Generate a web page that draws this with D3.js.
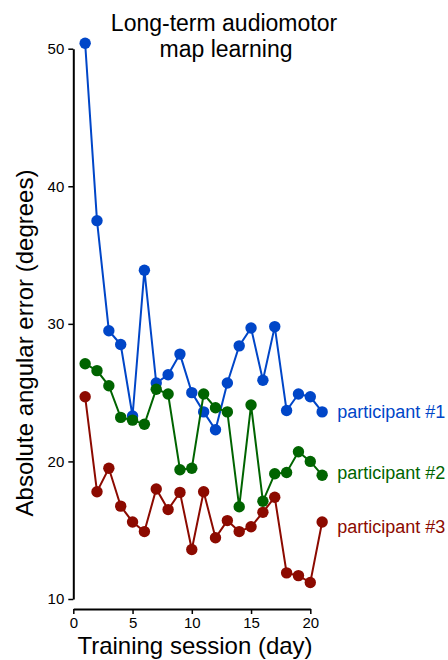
<!DOCTYPE html>
<html>
<head>
<meta charset="utf-8">
<script src="https://cdn.jsdelivr.net/npm/d3@7"></script>
<style>
  body { margin: 0; background: #fff; }
  text { font-family: "Liberation Sans", Arial, Helvetica, sans-serif; }
</style>
</head>
<body>
<div id="chart"></div>
<script>
// ---------------------- data ----------------------
var days = d3.range(1, 22);
var p1 = [50.4, 37.5, 29.5, 28.5, 23.3, 33.9, 25.7, 26.3, 27.8, 25.0, 23.6,
          22.3, 25.7, 28.4, 29.7, 25.9, 29.8, 23.7, 24.9, 24.7, 23.6];
var p2 = [27.1, 26.6, 25.5, 23.2, 23.0, 22.7, 25.25, 24.9, 19.4, 19.5, 24.9,
          23.9, 23.6, 16.7, 24.1, 17.1, 19.1, 19.2, 20.7, 20.0, 19.0];
var p3 = [24.7, 17.8, 19.5, 16.75, 15.6, 14.9, 18.0, 16.5, 17.75, 13.6, 17.8,
          14.45, 15.7, 14.9, 15.25, 16.3, 17.4, 11.9, 11.7, 11.2, 15.6];
var seriesNames = ["participant #1", "participant #2", "participant #3"];
var xTicks = [0, 5, 10, 15, 20];
var yTicks = [10, 20, 30, 40, 50];
var titleLines = ["Long-term audiomotor", "map learning"];

var series = [p1, p2, p3];
var seriesColors = ["#0046c8", "#006400", "#8c0a00"];
var labelNudge = [0, -2, 5];   // px, keeps the end labels apart

// ---------------------- svg ----------------------
var svg = d3.select("#chart")
     .append("svg")
     .attr("width", 448)
     .attr("height", 660);

var x = d3.scaleLinear().domain([0, 20]).range([73.3, 310.3]);
var y = d3.scaleLinear().domain([10, 50]).range([599, 48.7]);

// axes (offset from each other, spine only over the tick range)
var xAxis = svg.append("g")
     .attr("transform", "translate(0,609)")
     .call(d3.axisBottom(x).tickValues(xTicks).tickSize(5).tickSizeOuter(0).tickPadding(3));
var yAxis = svg.append("g")
     .attr("transform", "translate(73.3,0)")
     .call(d3.axisLeft(y).tickValues(yTicks).tickSize(5).tickSizeOuter(0).tickPadding(4));

[xAxis, yAxis].forEach(function (a) {
  a.select(".domain").attr("stroke", "#000").attr("stroke-width", 2);
  a.selectAll(".tick line").attr("stroke", "#000").attr("stroke-width", 1.5);
  a.selectAll(".tick text")
     .attr("fill", "#000")
     .attr("font-size", 15)
     .attr("font-family", "Liberation Sans, Arial, sans-serif");
});

// lines + markers
var line = d3.line()
     .x(function (d, i) { return x(days[i]); })
     .y(function (d) { return y(d); });

series.forEach(function (s, k) {
  svg.append("path")
     .datum(s)
     .attr("d", line)
     .attr("fill", "none")
     .attr("stroke", seriesColors[k])
     .attr("stroke-width", 2);

  svg.selectAll(".pt" + k)
     .data(s)
     .enter()
     .append("circle")
     .attr("class", "pt" + k)
     .attr("cx", function (d, i) { return x(days[i]); })
     .attr("cy", function (d) { return y(d); })
     .attr("r", 5.7)
     .attr("fill", seriesColors[k]);

  svg.append("text")
     .text(seriesNames[k])
     .attr("x", x(days[days.length - 1]) + 15)
     .attr("y", y(s[s.length - 1]) + labelNudge[k])
     .attr("dy", "0.35em")
     .attr("fill", seriesColors[k])
     .style("font-size", "18px");
});

// title, two lines
titleLines.forEach(function (t, i) {
  svg.append("text")
     .attr("x", i === 0 ? 224 : 226)
     .attr("y", 31 + i * 26)
     .attr("text-anchor", "middle")
     .style("font-size", "23px")
     .text(t);
});

// axis titles
svg.append("text")
     .attr("x", 195)
     .attr("y", 654)
     .attr("text-anchor", "middle")
     .style("font-size", "24px")
     .text("Training session (day)");
svg.append("text")
     .attr("transform", "translate(33,343) rotate(-90)")
     .attr("text-anchor", "middle")
     .style("font-size", "24px")
     .text("Absolute angular error (degrees)");
</script>
</body>
</html>
